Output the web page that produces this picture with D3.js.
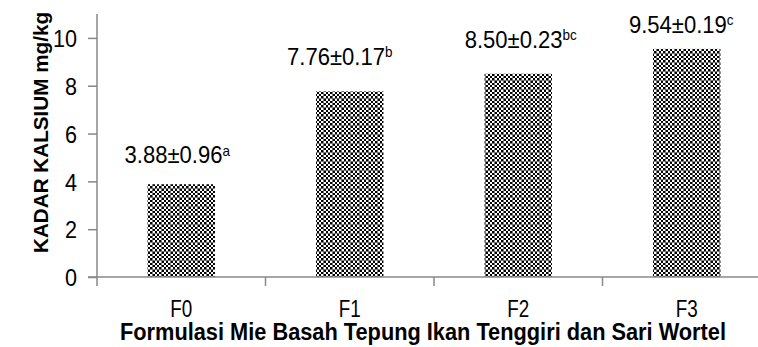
<!DOCTYPE html>
<html><head><meta charset="utf-8">
<script src="https://cdn.jsdelivr.net/npm/d3@7"></script>
<style>
html,body{margin:0;padding:0;background:#fff;}
svg{display:block;}
text{font-family:"Liberation Sans",Arial,sans-serif;fill:#000;}
</style></head>
<body>
<script>
const categories = ["F0","F1","F2","F3"];
const values = [3.88, 7.76, 8.50, 9.54];
const labelMain = ["3.88\u00B10.96","7.76\u00B10.17","8.50\u00B10.23","9.54\u00B10.19"];
const labelSup = ["a","b","bc","c"];
const yTicks = [0,2,4,6,8,10];
const yTitle = "KADAR KALSIUM mg/kg";
const xTitle = "Formulasi Mie Basah Tepung Ikan Tenggiri dan Sari Wortel";

// layout (label nudges as placed in the original)
const labelGap = [21, 26.5, 26, 16];
const labelDx = [-4, -10, 2.5, -5.5];

const W = 758, H = 347;
const svg = d3.select("body").append("svg").attr("width", W).attr("height", H);

const defs = svg.append("defs");
const pat = defs.append("pattern").attr("id","chk").attr("patternUnits","userSpaceOnUse")
  .attr("width",9).attr("height",9);
pat.append("rect").attr("width",9).attr("height",9).attr("fill","#fff");
for (let i=0;i<4;i++) for (let j=0;j<4;j++) {
  if ((i+j)%2===0) pat.append("rect").attr("x",i*2).attr("y",j*2).attr("width",2).attr("height",2).attr("fill","#000");
}
pat.append("rect").attr("x",8).attr("y",0).attr("width",1).attr("height",9).attr("fill","#777");
pat.append("rect").attr("x",0).attr("y",8).attr("width",9).attr("height",1).attr("fill","#777");

const x0 = 97, x1 = 771, yBase = 277;
const x = d3.scaleBand().domain(categories).range([x0, x1]).paddingInner(0).paddingOuter(0);
const y = d3.scaleLinear().domain([0, 11]).range([yBase, 14]);
const barW = x.bandwidth() * 0.4;

// bars
svg.selectAll("rect.bar").data(values).enter().append("rect")
  .attr("class","bar")
  .attr("x",(d,i)=>x(categories[i]) + (x.bandwidth()-barW)/2)
  .attr("y",d=>y(d))
  .attr("width",barW)
  .attr("height",d=>yBase - y(d))
  .attr("fill","url(#chk)");

// y axis
const yAxis = svg.append("g").attr("transform",`translate(${x0},0)`)
  .call(d3.axisLeft(y).tickValues(yTicks).tickSize(9).tickPadding(13).tickFormat(d3.format("d")));
yAxis.select(".domain").attr("stroke","#888").attr("stroke-width",1.5).attr("d",`M0,${yBase}V14`);
yAxis.selectAll(".tick line").attr("stroke","#888").attr("stroke-width",1.5);
yAxis.selectAll(".tick text").each(function(){
  const t = d3.select(this);
  const tx = +t.attr("x");
  t.attr("x",null).attr("font-size",24).attr("fill","#000").attr("font-family",null)
   .attr("dy","0.36em")
   .attr("transform",`translate(${tx+2},0) scale(0.9,1)`);
});

// x axis
const xAxis = svg.append("g").attr("transform",`translate(0,${yBase})`)
  .call(d3.axisBottom(x).tickSize(0).tickPadding(0).tickFormat(d=>d));
xAxis.select(".domain").attr("stroke","#888").attr("stroke-width",1.5).attr("d",`M${x0-9},0H${W}`);
xAxis.selectAll(".tick text").each(function(){
  const t = d3.select(this);
  t.attr("y",null).attr("dy",null).attr("font-size",23).attr("fill","#000").attr("font-family",null)
   .attr("transform",`translate(0,40) scale(0.82,1)`);
});
// category boundary ticks
const bounds = categories.map(c=>x(c));
svg.append("g").selectAll("line").data(bounds).enter().append("line")
  .attr("x1",d=>d).attr("x2",d=>d).attr("y1",yBase).attr("y2",yBase+9)
  .attr("stroke","#888").attr("stroke-width",1.5);

// data labels
const labG = svg.append("g").selectAll("g").data(values).enter().append("g")
  .attr("transform",(d,i)=>`translate(${x(categories[i]) + x.bandwidth()/2 + labelDx[i]},${y(d) - labelGap[i]}) scale(0.9,1)`);
const lab = labG.append("text").attr("text-anchor","middle").attr("font-size",24.5);
lab.append("tspan").text((d,i)=>labelMain[i]);
lab.append("tspan").attr("font-size",15).attr("dy",-7.5).text((d,i)=>labelSup[i]);

// titles
svg.append("text").attr("transform","translate(48,132.5) rotate(-90)")
  .attr("text-anchor","middle").attr("font-size",19.5).attr("font-weight","bold")
  .attr("textLength",241).attr("lengthAdjust","spacingAndGlyphs").text(yTitle);
svg.append("text").attr("x",423).attr("y",339.5)
  .attr("text-anchor","middle").attr("font-size",23).attr("font-weight","bold")
  .attr("textLength",606).attr("lengthAdjust","spacingAndGlyphs").text(xTitle);
</script>
</body></html>
